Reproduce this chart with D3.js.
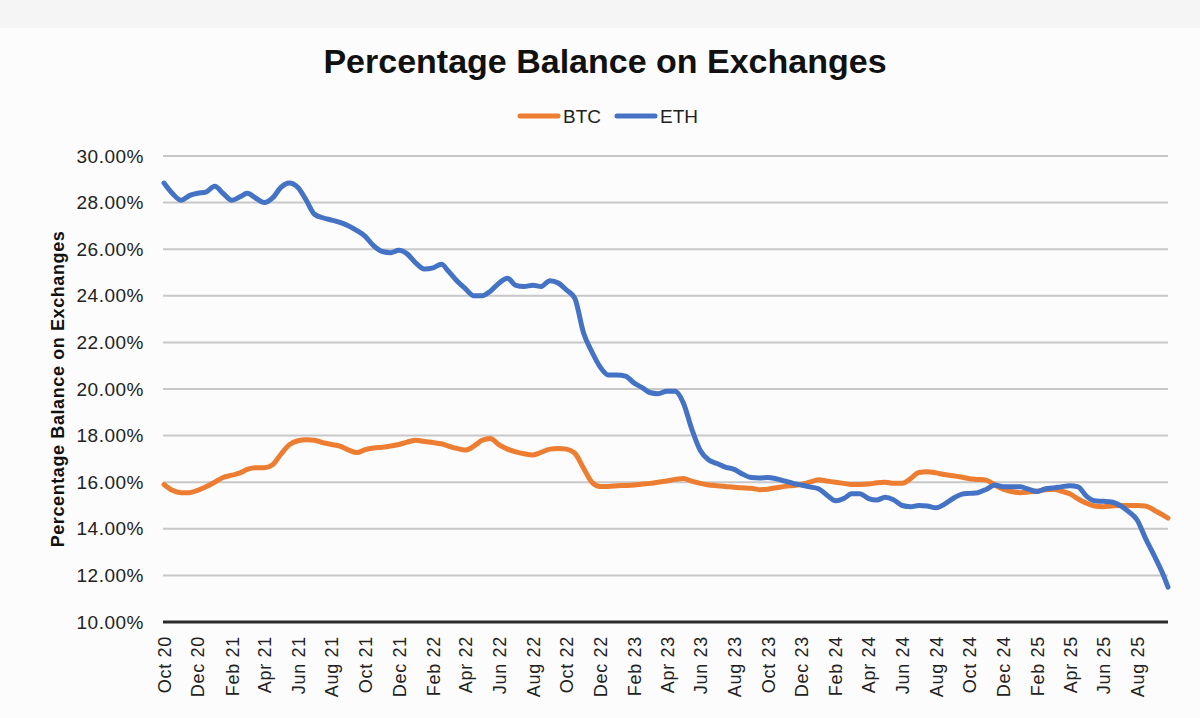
<!DOCTYPE html>
<html>
<head>
<meta charset="utf-8">
<script src="https://cdn.jsdelivr.net/npm/d3@7"></script>
<style>
  body { margin: 0; background: #fcfcfc; }
  svg { display: block; font-family: "Liberation Sans", Arial, sans-serif; }
</style>
</head>
<body>
<svg id="chart" width="1200" height="718"></svg>
<script>
// semi-monthly sample dates (1st and 16th), last one is the final data point
var dates = [
  "2020-10-01","2020-10-16","2020-11-01","2020-11-16","2020-12-01","2020-12-16",
  "2021-01-01","2021-01-16","2021-02-01","2021-02-16","2021-03-01","2021-03-16","2021-04-01","2021-04-16",
  "2021-05-01","2021-05-16","2021-06-01","2021-06-16","2021-07-01","2021-07-16","2021-08-01","2021-08-16",
  "2021-09-01","2021-09-16","2021-10-01","2021-10-16","2021-11-01","2021-11-16","2021-12-01","2021-12-16",
  "2022-01-01","2022-01-16","2022-02-01","2022-02-16","2022-03-01","2022-03-16","2022-04-01","2022-04-16",
  "2022-05-01","2022-05-16","2022-06-01","2022-06-16","2022-07-01","2022-07-16","2022-08-01","2022-08-16",
  "2022-09-01","2022-09-16","2022-10-01","2022-10-16","2022-11-01","2022-11-16","2022-12-01","2022-12-16",
  "2023-01-01","2023-01-16","2023-02-01","2023-02-16","2023-03-01","2023-03-16","2023-04-01","2023-04-16",
  "2023-05-01","2023-05-16","2023-06-01","2023-06-16","2023-07-01","2023-07-16","2023-08-01","2023-08-16",
  "2023-09-01","2023-09-16","2023-10-01","2023-10-16","2023-11-01","2023-11-16","2023-12-01","2023-12-16",
  "2024-01-01","2024-01-16","2024-02-01","2024-02-16","2024-03-01","2024-03-16","2024-04-01","2024-04-16",
  "2024-05-01","2024-05-16","2024-06-01","2024-06-16","2024-07-01","2024-07-16","2024-08-01","2024-08-16",
  "2024-09-01","2024-09-16","2024-10-01","2024-10-16","2024-11-01","2024-11-16","2024-12-01","2024-12-16",
  "2025-01-01","2025-01-16","2025-02-01","2025-02-16","2025-03-01","2025-03-16","2025-04-01","2025-04-16",
  "2025-05-01","2025-05-16","2025-06-01","2025-06-16","2025-07-01","2025-07-16","2025-08-01","2025-08-16",
  "2025-09-01","2025-09-16","2025-09-26"
];

var btc = [
  15.9,15.65,15.55,15.55,15.65,15.8,
  16.0,16.2,16.3,16.4,16.55,16.62,16.62,16.75,
  17.2,17.6,17.78,17.82,17.8,17.7,17.62,17.55,
  17.38,17.27,17.4,17.47,17.5,17.55,17.62,17.72,
  17.8,17.75,17.7,17.65,17.55,17.45,17.38,17.55,
  17.8,17.88,17.6,17.42,17.3,17.22,17.17,17.28,
  17.42,17.45,17.42,17.25,16.6,16.0,15.82,15.82,
  15.85,15.86,15.88,15.92,15.95,16.0,16.05,16.12,
  16.16,16.05,15.95,15.88,15.85,15.82,15.78,15.76,
  15.74,15.68,15.7,15.76,15.82,15.86,15.9,16.0,
  16.1,16.05,16.0,15.95,15.9,15.9,15.92,15.98,
  16.0,15.95,15.95,16.15,16.42,16.45,16.4,16.33,
  16.28,16.22,16.15,16.12,16.08,15.88,15.7,15.6,
  15.55,15.58,15.62,15.68,15.7,15.62,15.5,15.28,
  15.1,14.98,14.95,14.98,15.0,15.0,15.0,14.98,
  14.8,14.6,14.46
];

var eth = [
  28.84,28.4,28.1,28.3,28.4,28.45,
  28.7,28.4,28.1,28.25,28.4,28.2,28.0,28.2,
  28.65,28.84,28.65,28.1,27.5,27.35,27.25,27.15,
  27.0,26.8,26.55,26.15,25.9,25.85,25.95,25.8,
  25.4,25.15,25.2,25.35,25.05,24.65,24.3,24.0,
  24.0,24.2,24.55,24.75,24.45,24.4,24.45,24.4,
  24.65,24.55,24.25,23.9,22.4,21.6,20.95,20.6,
  20.6,20.55,20.25,20.05,19.85,19.8,19.9,19.9,
  19.4,18.3,17.35,16.95,16.8,16.65,16.55,16.35,
  16.2,16.18,16.2,16.15,16.05,15.95,15.88,15.8,
  15.72,15.45,15.2,15.3,15.5,15.5,15.3,15.24,
  15.35,15.25,15.0,14.95,15.0,14.98,14.9,15.05,
  15.3,15.48,15.52,15.55,15.7,15.88,15.8,15.8,
  15.8,15.7,15.6,15.72,15.75,15.8,15.85,15.8,
  15.4,15.2,15.18,15.15,15.0,14.75,14.38,13.6,
  12.85,12.1,11.5
];

var seriesNames = ["BTC", "ETH"];
var seriesColors = ["#ED7D31", "#4472C4"];
var yTicks = [10, 12, 14, 16, 18, 20, 22, 24, 26, 28, 30];
var xTickDates = [
  "2020-10-01","2020-12-01","2021-02-01","2021-04-01","2021-06-01","2021-08-01",
  "2021-10-01","2021-12-01","2022-02-01","2022-04-01","2022-06-01","2022-08-01",
  "2022-10-01","2022-12-01","2023-02-01","2023-04-01","2023-06-01","2023-08-01",
  "2023-10-01","2023-12-01","2024-02-01","2024-04-01","2024-06-01","2024-08-01",
  "2024-10-01","2024-12-01","2025-02-01","2025-04-01","2025-06-01","2025-08-01"
];

var parse = d3.timeParse("%Y-%m-%d");
var svg = d3.select("#chart");

svg.append("rect").attr("width", 1200).attr("height", 28).attr("fill", "#f5f5f5");

var plotLeft = 164, plotRight = 1168, plotTop = 156, plotBottom = 622;

var x = d3.scaleTime()
  .domain([parse(dates[0]), parse(dates[dates.length - 1])])
  .range([plotLeft, plotRight]);
var y = d3.scaleLinear().domain([10, 30]).range([plotBottom, plotTop]);

// gridlines
svg.append("g").selectAll("line")
  .data(yTicks.filter(d => d > 10))
  .join("line")
  .attr("x1", plotLeft - 1).attr("x2", plotRight)
  .attr("y1", d => y(d)).attr("y2", d => y(d))
  .attr("stroke", "#c8c8c8").attr("stroke-width", 2);

// y axis labels
var yAxis = svg.append("g")
  .attr("transform", "translate(" + (plotLeft - 20) + ",0)")
  .call(d3.axisLeft(y).tickValues(yTicks).tickSize(0).tickPadding(0)
    .tickFormat(d => d3.format(".2f")(d) + "%"));
yAxis.select(".domain").remove();
yAxis.selectAll("text")
  .attr("font-size", 19).attr("letter-spacing", 0.5)
  .attr("fill", "#222").attr("font-family", "Liberation Sans, Arial, sans-serif");

// x axis
var xAxis = svg.append("g")
  .attr("transform", "translate(0," + plotBottom + ")")
  .call(d3.axisBottom(x).tickValues(xTickDates.map(parse)).tickSize(0)
    .tickFormat(d3.timeFormat("%b %y")));
xAxis.select(".domain").remove();
xAxis.selectAll("text")
  .attr("font-size", 18).attr("letter-spacing", 0.7)
  .attr("fill", "#222").attr("font-family", "Liberation Sans, Arial, sans-serif")
  .attr("text-anchor", "end")
  .attr("transform", "rotate(-90)")
  .attr("x", -14).attr("y", 0).attr("dy", "0.35em");

svg.append("line")
  .attr("x1", plotLeft - 1).attr("x2", plotRight)
  .attr("y1", plotBottom).attr("y2", plotBottom)
  .attr("stroke", "#2b2b2b").attr("stroke-width", 3);

// lines
var line = d3.line()
  .x(d => x(d.date)).y(d => y(d.value))
  .curve(d3.curveMonotoneX);

[btc, eth].forEach(function(vals, i) {
  var pts = vals.map((v, j) => ({ date: parse(dates[j]), value: v }));
  svg.append("path")
    .datum(pts)
    .attr("d", line)
    .attr("fill", "none")
    .attr("stroke", seriesColors[i])
    .attr("stroke-width", 5)
    .attr("stroke-linejoin", "round")
    .attr("stroke-linecap", "round");
});

// title
svg.append("text")
  .attr("x", 605).attr("y", 73)
  .attr("text-anchor", "middle")
  .attr("font-size", 34).attr("font-weight", "bold")
  .attr("fill", "#111")
  .text("Percentage Balance on Exchanges");

// y axis title
svg.append("text")
  .attr("transform", "translate(64,389) rotate(-90)")
  .attr("text-anchor", "middle")
  .attr("font-size", 18).attr("font-weight", "bold").attr("letter-spacing", 0.6)
  .attr("fill", "#111")
  .text("Percentage Balance on Exchanges");

// legend
var legendX = [518, 615];
var leg = svg.append("g").selectAll("g")
  .data(seriesNames)
  .join("g")
  .attr("transform", (d, i) => "translate(" + legendX[i] + ",116)");
leg.append("line")
  .attr("x1", 2).attr("x2", 40)
  .attr("stroke", (d, i) => seriesColors[i])
  .attr("stroke-width", 5).attr("stroke-linecap", "round");
leg.append("text")
  .attr("x", 45).attr("y", 7)
  .attr("font-size", 19).attr("fill", "#222")
  .text(d => d);
</script>
</body>
</html>
